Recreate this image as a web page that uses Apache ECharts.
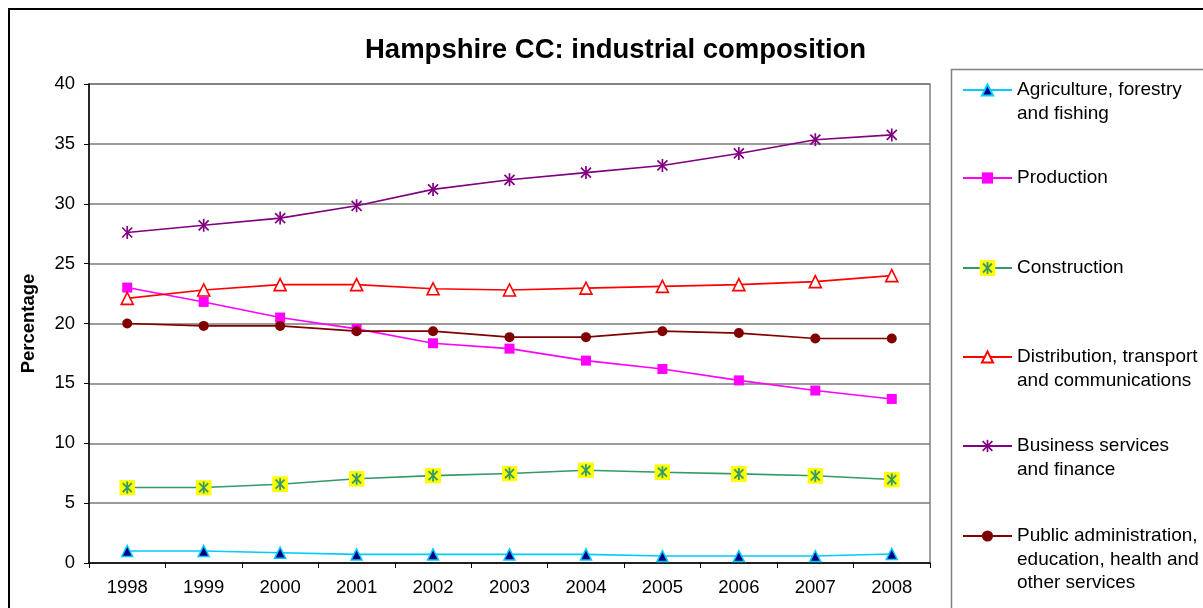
<!DOCTYPE html>
<html>
<head>
<meta charset="utf-8">
<script src="https://cdn.jsdelivr.net/npm/echarts@6/dist/echarts.min.js"></script>
<style>
html,body{margin:0;padding:0;background:#fff;}
#chart{width:1203px;height:608px;}
</style>
</head>
<body>
<div id="chart"></div>
<script>
const years = ['1998','1999','2000','2001','2002','2003','2004','2005','2006','2007','2008'];
const agriculture = [1.0,1.0,0.86,0.72,0.72,0.72,0.72,0.58,0.58,0.58,0.75];
const production = [23.0,21.8,20.5,19.55,18.35,17.9,16.9,16.2,15.25,14.4,13.7];
const construction = [6.3,6.3,6.58,7.03,7.3,7.47,7.75,7.58,7.44,7.28,6.97];
const distribution = [22.1,22.8,23.25,23.25,22.9,22.8,22.95,23.1,23.25,23.5,24.0];
const business = [27.6,28.2,28.8,29.83,31.2,32.0,32.6,33.2,34.2,35.35,35.75];
const publicAdmin = [20.0,19.8,19.8,19.36,19.36,18.86,18.86,19.36,19.2,18.75,18.75];
const seriesNames = [
  'Agriculture, forestry\nand fishing',
  'Production',
  'Construction',
  'Distribution, transport\nand communications',
  'Business services\nand finance',
  'Public administration,\neducation, health and\nother services'
];
const yTicks = {min:0, max:40, interval:5};

const FONT = 'Liberation Sans, Arial, sans-serif';
function svgUri(svg){ return 'image://data:image/svg+xml;utf8,' + encodeURIComponent(svg); }
const starSvg = svgUri('<svg xmlns="http://www.w3.org/2000/svg" width="14" height="14" viewBox="0 0 14 14"><g stroke="#800080" stroke-width="1.7" fill="none"><line x1="2" y1="2" x2="12" y2="12"/><line x1="12" y1="2" x2="2" y2="12"/><line x1="7" y1="0.5" x2="7" y2="13.5"/></g></svg>');
const consSvg = svgUri('<svg xmlns="http://www.w3.org/2000/svg" width="16" height="16" viewBox="0 0 16 16"><rect x="0" y="0" width="16" height="16" fill="#FFFF00"/><g stroke="#339966" stroke-width="1.8" fill="none"><line x1="3.5" y1="3.5" x2="12.5" y2="12.5"/><line x1="12.5" y1="3.5" x2="3.5" y2="12.5"/><line x1="8" y1="2" x2="8" y2="14"/></g></svg>');

const lineCol = ['#00CCFF','#FF00FF','#339966','#FF0000','#800080','#800000'];
const dataSets = [agriculture, production, construction, distribution, business, publicAdmin];
const symbols = [
  {symbol:'triangle', size:11, item:{color:'#000080', borderColor:'#00CCFF', borderWidth:1.5}},
  {symbol:'rect', size:10, item:{color:'#FF00FF'}},
  {symbol:consSvg, size:16, item:{color:'#339966'}},
  {symbol:'triangle', size:12, item:{color:'#FFFFFF', borderColor:'#FF0000', borderWidth:1.6}},
  {symbol:starSvg, size:14, item:{color:'#800080'}},
  {symbol:'circle', size:10, item:{color:'#800000'}}
];

const series = seriesNames.map((n,i)=>({
  name:n, type:'line', data:dataSets[i],
  symbol:symbols[i].symbol, symbolSize:symbols[i].size,
  lineStyle:{color:lineCol[i], width:1.6},
  itemStyle:symbols[i].item,
  showAllSymbol:true, animation:false, z: 2 + i
}));

// legend items: centers of first text line; empty lines pad the top so the icon sits on line 1
const legendCenters = [90,178,268,357,446,536];
const legendIconH = [14,14,20,14,17,14];
const lineH = 23.5;
const legends = seriesNames.map((n,i)=>{
  const nl = n.split('\n').length;
  const boxH = (2*nl-1)*lineH;
  return {
    data:[n], orient:'vertical', left:962, top: legendCenters[i] - boxH/2,
    padding:0, itemWidth:49, itemHeight: legendIconH[i], selectedMode:false,
    formatter: name => '\n'.repeat(nl-1) + name,
    textStyle:{fontFamily:FONT, fontSize:19, color:'#000', lineHeight:lineH}
  };
});

const chart = echarts.init(document.getElementById('chart'), null, {renderer:'canvas'});
chart.setOption({
  animation:false,
  backgroundColor:'#fff',
  title:{text:'Hampshire CC: industrial composition', left:360, top:31,
    textStyle:{fontFamily:FONT, fontSize:27.5, fontWeight:'bold', color:'#000'}},
  grid:{left:89, top:84, right:273, bottom:45, show:true, borderColor:'#808080', borderWidth:1.5, backgroundColor:'transparent'},
  legend:legends,
  graphic:[
    {type:'rect', shape:{x:9, y:9, width:1300, height:700}, style:{fill:'none', stroke:'#000', lineWidth:2}, silent:true},
    {type:'rect', shape:{x:951.5, y:69.5, width:400, height:700}, style:{fill:'none', stroke:'#808080', lineWidth:1.5}, silent:true}
  ],
  xAxis:{type:'category', data:years, boundaryGap:true,
    axisLine:{lineStyle:{color:'#000', width:1.5}},
    axisTick:{show:true, length:5, lineStyle:{color:'#000'}},
    axisLabel:{fontFamily:FONT, fontSize:18.5, color:'#000', margin:15},
    splitLine:{show:false}},
  yAxis:{type:'value', min:yTicks.min, max:yTicks.max, interval:yTicks.interval,
    name:'Percentage', nameLocation:'middle', nameGap:51, nameRotate:90,
    nameTextStyle:{fontFamily:FONT, fontSize:18.5, fontWeight:'bold', color:'#000'},
    axisLine:{show:true, lineStyle:{color:'#000', width:1.5}},
    axisTick:{show:true, length:5, lineStyle:{color:'#000'}},
    axisLabel:{fontFamily:FONT, fontSize:18.5, color:'#000', margin:14},
    splitLine:{show:true, lineStyle:{color:'#7a7a7a', width:1.5}}},
  series:series
});
</script>
</body>
</html>
